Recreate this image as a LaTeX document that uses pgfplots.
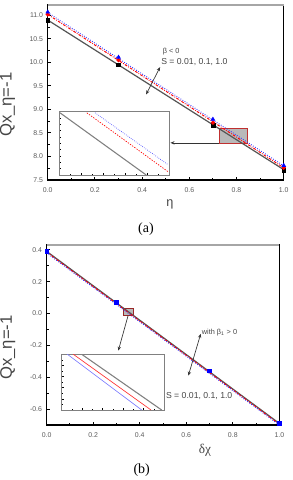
\documentclass[border=0pt]{standalone}
\usepackage{pgfplots}
\pgfplotsset{compat=1.18}
\usepackage{fontspec}
\setmainfont{Liberation Sans}
\newfontfamily\seriffont{Liberation Serif}
\usetikzlibrary{arrows.meta}
\definecolor{tickgray}{HTML}{5A5A5A}
\definecolor{txtgray}{HTML}{454545}
\definecolor{linegray}{HTML}{555555}
\definecolor{rectred}{HTML}{C03030}
\begin{document}
\begin{tikzpicture}
\useasboundingbox (0pt,0pt) rectangle (219.75pt,360pt);
\pgfplotsset{
 mainax/.style={
  scale only axis, anchor=south west,
  axis line style={black, line width=1.1pt},
  tick align=inside, xtick pos=left, ytick pos=left,
  tick style={black, line width=0.7pt}, major tick length=2.5pt, minor tick length=1.5pt,
  ticklabel style={font=\fontsize{5.2}{6}\selectfont, text=tickgray},
  xticklabel style={yshift=-2.5pt},
  /pgf/number format/assume math mode=true,
  /pgf/number format/fixed, /pgf/number format/fixed zerofill, /pgf/number format/precision=1,
  xmin=0,xmax=1, xtick={0,0.2,0.4,0.6,0.8,1}, minor x tick num=1, minor y tick num=1,
  clip=false,
  ylabel style={anchor=center, font=\fontsize{12.5}{13}\selectfont, text=txtgray},
  xlabel style={anchor=center, text=txtgray},
 },
 inset/.style={scale only axis, anchor=south west, xmin=0,xmax=1,ymin=0,ymax=1,
  axis background/.style={fill=white}, axis line style={gray, line width=0.7pt},
  xticklabels={}, yticklabels={}, tick align=inside, xtick pos=left, ytick pos=left,
  xtick={0,0.2,0.4,0.6,0.8,1}, minor x tick num=1, ytick={0,0.2,0.4,0.6,0.8,1}, minor y tick num=1,
  tick style={black,line width=0.4pt}, major tick length=1.5pt, minor tick length=1pt, clip=true},
}
% ---------- (a) ----------
\begin{axis}[mainax, at={(35.8pt,225pt)}, width=177pt, height=131.25pt,
  ymin=7.5, ymax=11.22, ytick={7.5,8,8.5,9,9.5,10,10.5,11},
  ylabel={Qx\_η=-1}, ylabel style={at={(axis description cs:-0.17,0.43)}},
  xlabel={η}, xlabel style={at={(axis description cs:0.518,-0.137)}, font=\fontsize{9.5}{10}\selectfont}]
\draw[rectred, fill=gray!55, line width=0.7pt] (axis cs:0.726,8.27) rectangle (axis cs:0.845,8.59);
\addplot[linegray, line width=0.9pt] coordinates {(0,10.9)(1,7.72)};
\addplot[red, dash pattern=on 2pt off 1pt on 0.6pt off 1pt, line width=0.7pt] coordinates {(0,11.02)(1,7.76)};
\addplot[blue!80, dash pattern=on 0.6pt off 1.2pt, line width=0.7pt] coordinates {(0,11.06)(1,7.8)};
\addplot[only marks, mark=square*, mark size=1.4pt, black] coordinates {(0,10.9)(0.3,9.95)(0.7,8.66)(1,7.7)};
\addplot[only marks, mark=*, mark size=1.4pt, red] coordinates {(0,11.02)(0.3,10.05)(0.7,8.72)(1,7.76)};
\addplot[only marks, mark=triangle*, mark size=1.6pt, blue] coordinates {(0,11.07)(0.3,10.11)(0.7,8.79)(1,7.81)};
\draw[-{Stealth[length=3pt,width=2.5pt]}, line width=0.5pt, black!80] (axis cs:0.726,8.29) -- (axis cs:0.52,8.29);
\draw[{Stealth[length=3pt,width=2.5pt]}-{Stealth[length=3pt,width=2.5pt]}, line width=0.5pt, black!80] (axis cs:0.417,9.32) -- (axis cs:0.476,9.90);
\node[anchor=west, font=\fontsize{5.5}{6}\selectfont, text=txtgray, inner sep=0pt] at (axis cs:0.487,10.23) {β < 0};
\node[anchor=west, font=\fontsize{6.5}{7}\selectfont, text=txtgray, inner sep=0pt] at (axis cs:0.48,10.0) {S = 0.01, 0.1, 1.0};
\draw[gray!70, line width=0.8pt] (rel axis cs:0,1) -- (rel axis cs:1,1);
\end{axis}
\begin{axis}[inset, at={(44.5pt,228.75pt)}, width=82.5pt, height=47.6pt]
\addplot[gray, line width=0.8pt] coordinates {(0.006,0.98)(0.79,0)};
\addplot[red, dash pattern=on 1pt off 1pt, line width=0.5pt] coordinates {(0.25,0.98)(0.99,0.05)};
\addplot[blue!70, dash pattern=on 0.5pt off 1pt, line width=0.5pt] coordinates {(0.325,0.98)(0.99,0.16)};
\end{axis}
% ---------- (b) ----------
\begin{axis}[mainax, at={(35pt,41.25pt)}, width=174.5pt, height=135pt,
  ymin=-0.7, ymax=0.43, ytick={-0.6,-0.4,-0.2,0,0.2,0.4},
  ylabel={Qx\_η=-1}, ylabel style={at={(axis description cs:-0.167,0.43)}},
  xlabel={\seriffont δχ}, xlabel style={at={(axis description cs:0.68,-0.139)}, font=\fontsize{10}{11}\selectfont}]
\draw[rectred!80!black, fill=gray!55, line width=0.7pt] (axis cs:0.33,-0.013) rectangle (axis cs:0.375,0.033);
\addplot[linegray, line width=0.9pt] coordinates {(0,0.39)(1,-0.69)};
\addplot[red, dash pattern=on 2pt off 1pt on 0.6pt off 1pt, line width=0.7pt] coordinates {(0,0.385)(1,-0.695)};
\addplot[blue!80, dash pattern=on 0.6pt off 1.2pt, line width=0.7pt] coordinates {(0,0.38)(1,-0.70)};
\addplot[only marks, mark=square*, mark size=1.4pt, blue] coordinates {(0,0.39)(0.3,0.07)(0.7,-0.36)(1,-0.69)};
\draw[-{Stealth[length=3pt,width=2.5pt]}, line width=0.5pt, black!80] (axis cs:0.35,-0.013) -- (axis cs:0.308,-0.233);
\draw[{Stealth[length=3pt,width=2.5pt]}-{Stealth[length=3pt,width=2.5pt]}, line width=0.5pt, black!80] (axis cs:0.662,-0.128) -- (axis cs:0.609,-0.39);
\node[anchor=west, font=\fontsize{5.5}{6}\selectfont, text=txtgray, inner sep=0pt] at (axis cs:0.666,-0.118) {with β\textsubscript{1} > 0};
\node[anchor=west, font=\fontsize{6.5}{7}\selectfont, text=txtgray, inner sep=0pt] at (axis cs:0.512,-0.516) {S = 0.01, 0.1, 1.0};
\draw[gray!70, line width=0.8pt] (rel axis cs:0,1) -- (rel axis cs:1,1);
\end{axis}
\begin{axis}[inset, at={(46.3pt,52.5pt)}, width=76.7pt, height=41.8pt]
\addplot[gray, line width=0.8pt] coordinates {(0.195,1)(0.977,0)};
\addplot[red!80, line width=0.5pt] coordinates {(0.113,1)(0.873,0)};
\addplot[blue!50, line width=0.5pt] coordinates {(0.055,1)(0.782,0)};
\end{axis}
\node[font=\seriffont\fontsize{10.5}{12}\selectfont] at (109.5pt,188.25pt) {(a)};
\node[font=\seriffont\fontsize{10.5}{12}\selectfont] at (106.3pt,7.5pt) {(b)};
\end{tikzpicture}
\end{document}
